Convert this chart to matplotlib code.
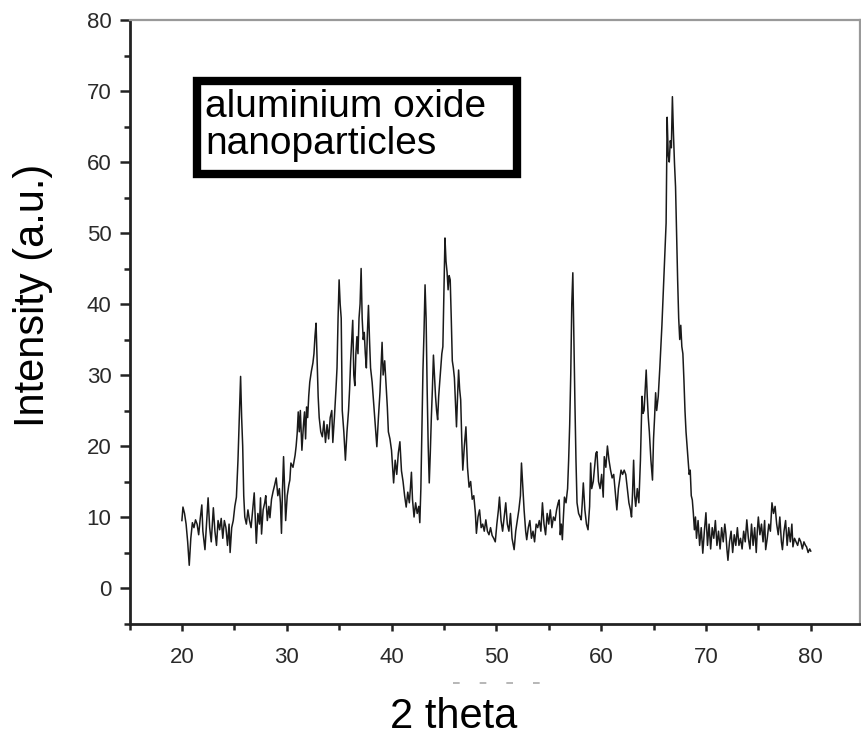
#Import modules
import numpy as np
import matplotlib
matplotlib.use("Agg")
import matplotlib.pyplot as plt
from matplotlib.patches import Rectangle
from matplotlib.lines import Line2D
from matplotlib.ticker import MultipleLocator

plt.rcParams['font.family'] = ['Liberation Sans', 'DejaVu Sans']

#XRD pattern (2 theta in degrees, intensity in a.u.)
two_theta = [
    20.0, 20.1, 20.25, 20.4, 20.55, 20.7, 20.85, 21.0, 21.15, 21.3, 21.45, 21.6, 21.75, 21.9, 22.0, 22.2,
    22.35, 22.5, 22.65, 22.8, 22.9, 23.0, 23.15, 23.3, 23.45, 23.6, 23.75, 23.9, 24.05, 24.2, 24.35, 24.5,
    24.6, 24.75, 24.9, 25.05, 25.2, 25.35, 25.5, 25.6, 25.7, 25.8, 25.9, 26.0, 26.15, 26.3, 26.45, 26.6,
    26.75, 26.9, 27.0, 27.1, 27.25, 27.4, 27.5, 27.6, 27.75, 27.9, 28.0, 28.15, 28.3, 28.4, 28.55, 28.7,
    28.85, 29.0, 29.15, 29.3, 29.4, 29.5, 29.6, 29.7, 29.8, 29.9, 30.05, 30.2, 30.3, 30.4, 30.6, 30.8,
    30.9, 31.0, 31.1, 31.2, 31.3, 31.45, 31.6, 31.7, 31.8, 31.9, 32.0, 32.1, 32.2, 32.35, 32.5, 32.6,
    32.7, 32.8, 32.9, 33.0, 33.1, 33.25, 33.4, 33.55, 33.7, 33.85, 34.0, 34.15, 34.3, 34.4, 34.55, 34.7,
    34.8, 34.9, 35.0, 35.1, 35.2, 35.3, 35.45, 35.6, 35.75, 35.9, 36.0, 36.1, 36.2, 36.3, 36.4, 36.5,
    36.6, 36.7, 36.8, 36.9, 37.0, 37.1, 37.2, 37.3, 37.4, 37.5, 37.6, 37.7, 37.8, 37.9, 38.0, 38.15,
    38.3, 38.45, 38.6, 38.75, 38.9, 39.0, 39.1, 39.2, 39.35, 39.5, 39.6, 39.7, 39.85, 40.0, 40.1, 40.2,
    40.35, 40.5, 40.65, 40.8, 40.95, 41.1, 41.25, 41.4, 41.55, 41.7, 41.8, 41.9, 42.0, 42.15, 42.3, 42.45,
    42.6, 42.7, 42.8, 42.9, 43.0, 43.1, 43.2, 43.3, 43.4, 43.5, 43.6, 43.7, 43.8, 43.9, 44.0, 44.1,
    44.2, 44.3, 44.4, 44.5, 44.6, 44.7, 44.8, 44.9, 45.0, 45.1, 45.2, 45.3, 45.4, 45.5, 45.6, 45.7,
    45.8, 45.9, 46.0, 46.1, 46.2, 46.3, 46.4, 46.5, 46.6, 46.7, 46.8, 46.95, 47.1, 47.25, 47.4, 47.55,
    47.7, 47.85, 48.0, 48.1, 48.25, 48.4, 48.55, 48.7, 48.85, 49.0, 49.15, 49.3, 49.45, 49.6, 49.75, 49.9,
    50.05, 50.2, 50.3, 50.45, 50.6, 50.75, 50.9, 51.05, 51.2, 51.35, 51.5, 51.7, 51.85, 52.0, 52.15, 52.3,
    52.4, 52.5, 52.65, 52.8, 52.9, 53.05, 53.2, 53.35, 53.5, 53.65, 53.8, 53.95, 54.1, 54.25, 54.4, 54.55,
    54.7, 54.85, 55.0, 55.15, 55.3, 55.45, 55.6, 55.75, 55.9, 56.0, 56.1, 56.2, 56.3, 56.4, 56.5, 56.65,
    56.8, 56.9, 57.0, 57.1, 57.2, 57.3, 57.4, 57.5, 57.6, 57.7, 57.85, 58.0, 58.1, 58.2, 58.3, 58.45,
    58.6, 58.75, 58.9, 59.0, 59.1, 59.25, 59.4, 59.5, 59.6, 59.75, 59.9, 60.05, 60.2, 60.3, 60.45, 60.6,
    60.75, 60.9, 61.05, 61.2, 61.35, 61.5, 61.65, 61.8, 61.9, 62.05, 62.2, 62.35, 62.5, 62.65, 62.8, 62.9,
    63.0, 63.1, 63.2, 63.3, 63.45, 63.6, 63.75, 63.9, 64.0, 64.1, 64.2, 64.3, 64.4, 64.5, 64.6, 64.75,
    64.9, 65.0, 65.1, 65.2, 65.3, 65.45, 65.6, 65.7, 65.8, 65.9, 66.0, 66.1, 66.2, 66.3, 66.4, 66.5,
    66.6, 66.7, 66.8, 66.9, 67.0, 67.1, 67.2, 67.3, 67.4, 67.5, 67.6, 67.7, 67.8, 67.9, 68.0, 68.1,
    68.2, 68.3, 68.4, 68.5, 68.6, 68.7, 68.8, 68.9, 69.0, 69.1, 69.25, 69.4, 69.55, 69.7, 69.85, 70.0,
    70.15, 70.3, 70.45, 70.6, 70.75, 70.9, 71.05, 71.2, 71.35, 71.5, 71.65, 71.8, 71.9, 72.0, 72.1, 72.25,
    72.4, 72.55, 72.7, 72.85, 73.0, 73.15, 73.3, 73.45, 73.6, 73.75, 73.9, 74.05, 74.2, 74.35, 74.5, 74.65,
    74.8, 74.9, 75.0, 75.15, 75.3, 75.45, 75.6, 75.7, 75.85, 76.0, 76.15, 76.3, 76.45, 76.6, 76.75, 76.9,
    77.05, 77.2, 77.3, 77.45, 77.6, 77.75, 77.9, 78.05, 78.2, 78.3, 78.45, 78.6, 78.75, 78.9, 79.05, 79.2,
    79.35, 79.5, 79.6, 79.75, 79.9, 80.0]

intensity = [
    9.5, 11.4, 10.5, 9.0, 6.5, 3.2, 7.0, 9.2, 8.5, 9.6, 9.0, 7.5, 9.8, 11.7, 8.0, 5.4,
    9.0, 12.7, 8.5, 6.5, 9.0, 11.3, 8.0, 6.0, 9.5, 8.2, 9.8, 7.0, 9.5, 8.5, 6.0, 9.0,
    5.0, 8.5, 9.5, 11.5, 12.8, 18.0, 25.0, 29.8, 24.0, 20.0, 13.0, 10.0, 9.0, 11.0, 9.5, 8.5,
    11.0, 13.4, 10.0, 6.3, 10.5, 9.0, 12.7, 7.6, 11.0, 12.0, 13.0, 9.5, 11.5, 9.9, 12.5, 13.6,
    14.5, 15.5, 13.0, 14.0, 12.0, 7.7, 14.0, 18.5, 14.0, 9.5, 13.0, 14.5, 15.2, 17.6, 17.0, 18.7,
    20.0, 21.8, 24.8, 22.0, 25.0, 19.4, 23.0, 24.8, 21.0, 25.5, 24.0, 27.0, 29.0, 30.5, 31.7, 33.0,
    35.5, 37.3, 32.0, 27.0, 24.0, 22.0, 21.3, 23.5, 20.5, 23.0, 21.0, 24.0, 25.0, 20.5, 24.0, 28.0,
    31.0, 38.0, 43.4, 40.0, 38.0, 25.0, 22.0, 18.0, 22.0, 25.0, 28.0, 32.0, 35.0, 37.7, 30.0, 28.5,
    33.0, 35.4, 33.0, 38.0, 40.0, 45.0, 38.0, 35.0, 36.0, 33.0, 31.0, 36.0, 39.8, 35.0, 31.0, 29.0,
    26.0, 23.0, 19.9, 24.0, 27.6, 31.0, 34.6, 30.0, 32.0, 28.0, 25.5, 22.0, 21.0, 19.4, 17.0, 14.8,
    18.0, 16.0, 19.0, 20.6, 16.5, 15.0, 13.0, 11.4, 13.5, 12.0, 14.0, 16.3, 12.5, 10.0, 12.0, 10.5,
    11.5, 9.2, 14.0, 22.0, 30.7, 36.0, 42.7, 38.0, 28.0, 20.0, 14.8, 19.0, 24.0, 28.0, 32.8, 30.0,
    27.0, 25.0, 23.7, 27.0, 29.0, 31.0, 33.0, 34.0, 42.0, 49.3, 46.0, 44.5, 42.0, 44.0, 43.4, 38.0,
    32.0, 31.0, 29.6, 26.0, 22.7, 27.0, 30.7, 28.0, 26.5, 21.0, 16.6, 20.0, 22.7, 17.0, 14.2, 15.0,
    12.5, 13.0, 10.6, 7.7, 10.0, 11.0, 8.5, 9.0, 8.0, 9.6, 8.0, 7.5, 8.5, 7.4, 7.0, 6.5,
    9.0, 11.0, 12.8, 9.5, 8.0, 10.0, 12.0, 9.0, 8.0, 10.5, 7.0, 5.4, 8.0, 9.5, 11.0, 13.0,
    17.6, 15.0, 11.0, 8.0, 6.8, 8.5, 9.5, 7.0, 8.0, 6.5, 9.0, 8.5, 9.5, 8.0, 12.0, 9.0,
    7.5, 10.5, 9.0, 11.0, 8.5, 10.0, 9.5, 11.0, 12.0, 12.4, 7.5, 9.0, 6.8, 10.0, 12.8, 12.0,
    14.0, 18.0, 23.0, 30.0, 40.0, 44.4, 35.0, 26.0, 18.0, 12.0, 10.5, 10.0, 9.6, 12.0, 14.8, 11.0,
    9.0, 8.2, 11.5, 17.6, 14.0, 15.0, 17.5, 19.0, 19.2, 15.0, 14.0, 16.0, 12.8, 18.5, 17.0, 20.0,
    18.0, 16.6, 15.5, 16.0, 13.5, 11.0, 14.0, 15.5, 16.6, 16.0, 16.6, 16.0, 14.0, 12.0, 11.0, 10.0,
    13.5, 18.0, 13.0, 11.5, 14.0, 12.0, 18.0, 27.0, 24.6, 25.0, 28.0, 30.7, 27.0, 24.0, 22.0, 18.0,
    15.2, 21.0, 24.0, 27.5, 25.0, 27.0, 31.0, 34.0, 37.0, 40.6, 44.0, 48.0, 51.4, 66.3, 61.0, 60.0,
    63.0, 62.0, 69.2, 64.0, 59.8, 56.5, 50.0, 43.4, 38.0, 35.0, 37.0, 34.0, 33.0, 29.3, 25.0, 22.0,
    19.9, 18.0, 16.0, 16.6, 13.0, 12.4, 10.5, 8.2, 10.0, 7.0, 9.5, 6.0, 8.5, 4.9, 8.0, 10.6,
    6.0, 9.0, 5.5, 8.5, 7.0, 9.5, 6.0, 8.0, 5.5, 8.5, 6.5, 9.0, 7.7, 5.5, 3.9, 6.5,
    8.0, 5.0, 7.5, 6.0, 8.5, 6.0, 7.0, 5.5, 8.0, 6.5, 9.6, 7.0, 5.5, 9.0, 6.0, 8.5,
    5.0, 8.0, 10.0, 7.5, 9.0, 6.5, 9.5, 5.4, 7.0, 9.0, 8.0, 12.0, 10.5, 11.5, 9.0, 7.5,
    10.0, 6.5, 5.4, 8.0, 9.5, 6.0, 8.5, 6.5, 9.0, 5.8, 7.0, 6.5, 6.0, 7.0, 6.5, 5.5,
    6.5, 6.0, 5.8, 5.0, 5.5, 5.2]

x_ticks = [20, 30, 40, 50, 60, 70, 80]
y_ticks = [0, 10, 20, 30, 40, 50, 60, 70, 80]

#Set up the frame
W, H = 861, 745
fig = plt.figure(figsize=(W/100, H/100), dpi=100)
ax = fig.add_axes([129.5/W, 1 - 623.5/H, (860 - 129.5)/W, (623.5 - 20)/H])

ax.plot(two_theta, intensity, color='#1a1a1a', lw=1.1)

ax.set_xlim(15, 84.7)
ax.set_ylim(-5, 80)
ax.set_xticks(x_ticks)
ax.set_yticks(y_ticks)
ax.xaxis.set_minor_locator(MultipleLocator(5))
ax.yaxis.set_minor_locator(MultipleLocator(5))

ax.tick_params(which='both', direction='out', width=1.8, color='#222222',
               labelsize=16, labelcolor='#2a2a2a')
ax.tick_params(axis='y', which='major', length=7, pad=6)
ax.tick_params(axis='y', which='minor', length=4)
ax.tick_params(axis='x', which='major', length=5, pad=12)
ax.tick_params(axis='x', which='minor', length=4)

for side in ['left', 'bottom']:
    ax.spines[side].set_linewidth(2.0)
    ax.spines[side].set_color('#222222')
for side in ['top', 'right']:
    ax.spines[side].set_linewidth(1.6)
    ax.spines[side].set_color('#999999')

#Axis labels
fig.text(33/W, 1 - 295/H, 'Intensity (a.u.)', rotation=90, ha='center', va='center', fontsize=30)
fig.text(454/W, 1 - 728/H, '2 theta', ha='center', va='baseline', fontsize=30)

#Faint leftover of an old label under the axis
fig.add_artist(Line2D([453/W, 540/W], [1 - 683/H, 1 - 683/H], color='#aaaaaa', lw=1.2,
                      linestyle=(0, (4, 12))))

#Sample name box
fig.add_artist(Rectangle((197/W, 1 - 174/H), 320/W, 93/H, transform=fig.transFigure,
                         fill=False, edgecolor='black', lw=6))
fig.text(205/W, 1 - 89/H, 'aluminium oxide\nnanoparticles', ha='left', va='top',
         fontsize=28, linespacing=1.02)

fig.savefig('out.png', dpi=100)
